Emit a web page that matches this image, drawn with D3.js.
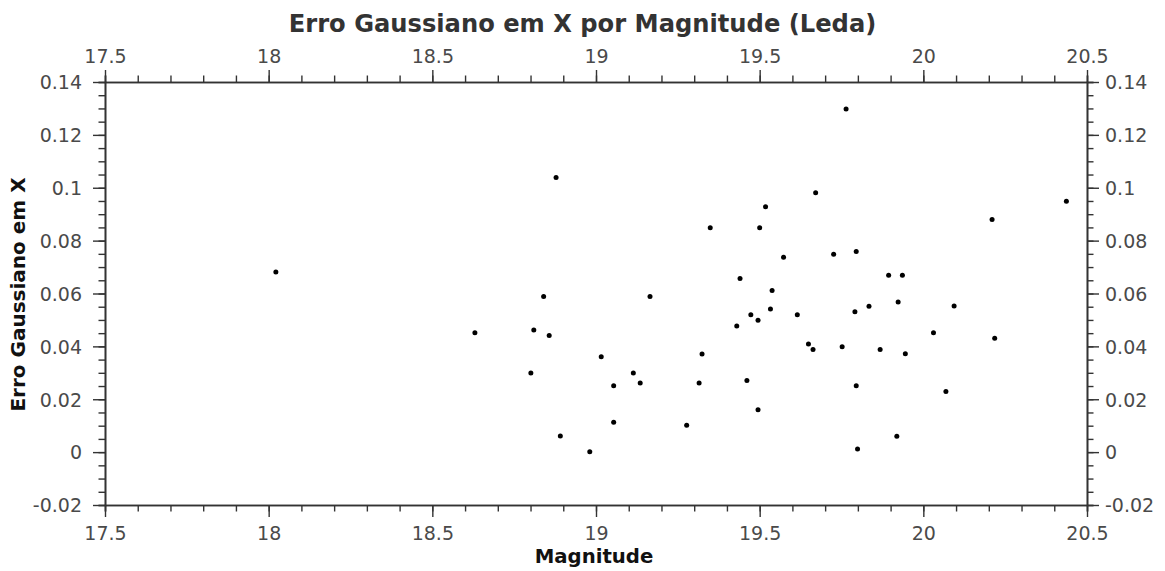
<!DOCTYPE html>
<html>
<head>
<meta charset="utf-8">
<script src="https://cdn.jsdelivr.net/npm/d3@7"></script>
<style>
  html, body { margin: 0; padding: 0; background: #fff; }
  svg { display: block; }
  text { font-family: "DejaVu Sans", sans-serif; }
</style>
</head>
<body>
<svg id="chart" width="1165" height="571"></svg>
<script>
// Magnitude of each source
const magnitude = [
  18.022, 18.630, 18.801, 18.810, 18.840, 18.857, 18.878, 18.891, 18.981, 19.016,
  19.054, 19.054, 19.114, 19.135, 19.165, 19.277, 19.315, 19.324, 19.349, 19.430,
  19.440, 19.461, 19.473, 19.495, 19.495, 19.500, 19.518, 19.533, 19.538, 19.573,
  19.615, 19.649, 19.663, 19.671, 19.726, 19.752, 19.764, 19.791, 19.795, 19.795,
  19.799, 19.834, 19.868, 19.894, 19.919, 19.923, 19.936, 19.945, 20.031, 20.069,
  20.094, 20.210, 20.218, 20.437
];
// Gaussian error in X for each source
const erroX = [
  0.0681, 0.0452, 0.0299, 0.0462, 0.0589, 0.0441, 0.1039, 0.0061, 0.0001, 0.0361,
  0.0251, 0.0113, 0.0299, 0.0261, 0.0589, 0.0102, 0.0261, 0.0371, 0.0849, 0.0477,
  0.0657, 0.0271, 0.0520, 0.0499, 0.0160, 0.0849, 0.0928, 0.0541, 0.0611, 0.0737,
  0.0520, 0.0409, 0.0388, 0.0981, 0.0748, 0.0399, 0.1298, 0.0531, 0.0759, 0.0251,
  0.0012, 0.0552, 0.0388, 0.0669, 0.0060, 0.0568, 0.0669, 0.0372, 0.0452, 0.0229,
  0.0553, 0.0880, 0.0431, 0.0949
];

const xTicks = [17.5, 18, 18.5, 19, 19.5, 20, 20.5];
const xTickLabels = ["17.5", "18", "18.5", "19", "19.5", "20", "20.5"];
const yTicks = [-0.02, 0, 0.02, 0.04, 0.06, 0.08, 0.1, 0.12, 0.14];
const yTickLabels = ["-0.02", "0", "0.02", "0.04", "0.06", "0.08", "0.1", "0.12", "0.14"];

const titleText = "Erro Gaussiano em X por Magnitude (Leda)";
const xTitle = "Magnitude";
const yTitle = "Erro Gaussiano em X";

const svg = d3.select("#chart");
const W = 1165, H = 571;
const plot = { left: 105, right: 1087, top: 82, bottom: 505 };

const x = d3.scaleLinear().domain([17.5, 20.5]).range([plot.left, plot.right]);
const y = d3.scaleLinear().domain([-0.02, 0.14]).range([plot.bottom, plot.top]);

const xMinor = d3.range(0, 31).map(i => +(17.5 + i * 0.1).toFixed(2));
const yMinor = d3.range(0, 33).map(i => +(-0.02 + i * 0.005).toFixed(4));

const axisColor = "#333";
const labelColor = "#4a4a4a";
const MAJOR = 12, MINOR = 6.5;

function fmtFrom(ticks, labels) {
  return d => {
    const i = ticks.findIndex(t => Math.abs(t - d) < 1e-9);
    return i >= 0 ? labels[i] : "";
  };
}

function styleAxis(g) {
  g.select(".domain").attr("stroke", axisColor).attr("stroke-width", 1.6);
  g.selectAll(".tick line").attr("stroke", axisColor).attr("stroke-width", 1.4);
  g.selectAll(".tick text")
    .attr("fill", labelColor)
    .style("font-family", "'DejaVu Sans', sans-serif")
    .style("font-size", "19px");
}

// minor ticks first, then major ticks with labels
function drawAxis(axisFn, scale, transform, major, labels, minor) {
  svg.append("g").attr("transform", transform)
    .call(axisFn(scale).tickValues(minor).tickSize(MINOR).tickFormat(""))
    .call(styleAxis);
  return svg.append("g").attr("transform", transform)
    .call(axisFn(scale).tickValues(major).tickSize(MAJOR).tickSizeOuter(0)
      .tickPadding(8).tickFormat(fmtFrom(major, labels)))
    .call(styleAxis);
}

const gB = drawAxis(d3.axisBottom, x, `translate(0,${plot.bottom})`, xTicks, xTickLabels, xMinor);
gB.selectAll(".tick text").attr("dy", null).attr("y", 35);
const gT = drawAxis(d3.axisTop, x, `translate(0,${plot.top})`, xTicks, xTickLabels, xMinor);
gT.selectAll(".tick text").attr("dy", null).attr("y", -19.5);
const gL = drawAxis(d3.axisLeft, y, `translate(${plot.left},0)`, yTicks, yTickLabels, yMinor);
gL.selectAll(".tick text").attr("x", -23).attr("dy", "0.36em");
const gR = drawAxis(d3.axisRight, y, `translate(${plot.right},0)`, yTicks, yTickLabels, yMinor);
gR.selectAll(".tick text").attr("x", 18).attr("dy", "0.36em");

// data points
svg.append("g")
  .selectAll("circle")
  .data(magnitude.map((m, i) => ({ m, e: erroX[i] })))
  .join("circle")
  .attr("cx", d => x(d.m))
  .attr("cy", d => y(d.e))
  .attr("r", 2.5)
  .attr("fill", "#000");

// titles
svg.append("text")
  .attr("x", W / 2).attr("y", 32)
  .attr("text-anchor", "middle")
  .attr("fill", "#333")
  .style("font-weight", "bold").style("font-size", "24.2px")
  .text(titleText);

svg.append("text")
  .attr("x", (plot.left + plot.right) / 2 - 2).attr("y", 563)
  .attr("text-anchor", "middle")
  .attr("fill", "#111")
  .style("font-weight", "bold").style("font-size", "19.7px")
  .text(xTitle);

svg.append("text")
  .attr("transform", `translate(25,${(plot.top + plot.bottom) / 2 + 1}) rotate(-90)`)
  .attr("text-anchor", "middle")
  .attr("fill", "#111")
  .style("font-weight", "bold").style("font-size", "20px")
  .text(yTitle);
</script>
</body>
</html>
